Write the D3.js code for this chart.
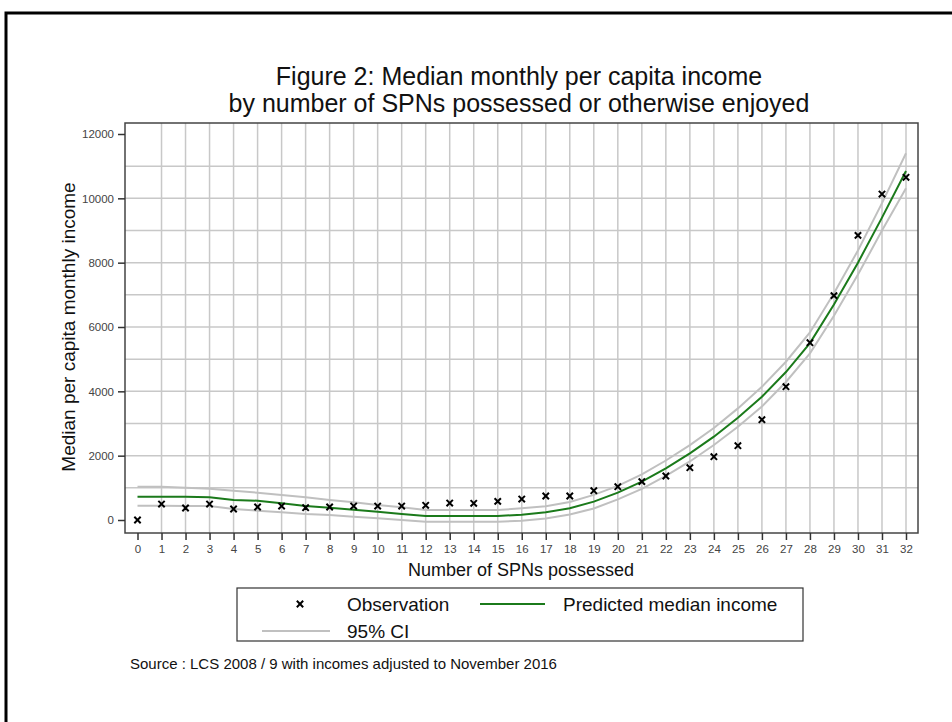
<html><head>
<script src="https://d3js.org/d3.v7.min.js"></script>
<style>
  body { margin: 0; background: #fff; }
  text { font-family: "Liberation Sans", Arial, sans-serif; }
</style>
</head>
<body>
<svg id="chart" width="952" height="722"></svg>
<script>
// number of SPNs (x)
let spns = d3.range(0, 33);
// observed median income
let observed = [0, 497, 373, 497, 342, 404, 435, 383, 404, 435, 435, 435, 456, 528, 518, 580, 652,
  746, 746, 911, 1036, 1192, 1368, 1627, 1969, 2311, 3119, 4145, 5513, 6975, 8849, 10134, 10653];
// predicted median income
let predicted = [725, 725, 725, 705, 622, 600, 518, 435, 383, 321, 259, 187, 124, 124, 124, 124, 166,
  238, 363, 570, 849, 1192, 1607, 2073, 2590, 3181, 3834, 4600, 5500, 6700, 8000, 9400, 10850];
// 95% CI bounds
let ciUpper = [1035, 1035, 1004, 973, 911, 849, 777, 705, 622, 550, 466, 394, 311, 311, 311, 311, 363,
  430, 560, 780, 1060, 1420, 1850, 2330, 2860, 3470, 4140, 4920, 5830, 7050, 8380, 9850, 11400];
let ciLower = [445, 445, 435, 435, 342, 290, 238, 187, 155, 104, 52, 0, -52, -52, -52, -52, -20,
  50, 170, 360, 640, 970, 1370, 1820, 2330, 2900, 3530, 4290, 5180, 6350, 7630, 9000, 10310];
let yTicks = [0, 2000, 4000, 6000, 8000, 10000, 12000];
let yGrid = d3.range(1000, 12000, 1000);
let xGrid = d3.range(1, 33);

let svg = d3.select("svg#chart");

// outer frame
svg.append("rect")
  .attr("x", 6).attr("y", 13).attr("width", 960).attr("height", 720)
  .attr("fill", "none").attr("stroke", "#000").attr("stroke-width", 3);

let frame = {left: 125, right: 918, top: 123, bottom: 533};
let x = d3.scaleLinear().domain([0, 32]).range([137.5, 906]);
let y = d3.scaleLinear().domain([0, 12000]).range([520, 134]);

// gridlines
svg.append("g").selectAll("line")
  .data(yGrid).join("line")
  .attr("x1", frame.left).attr("x2", frame.right)
  .attr("y1", d => y(d)).attr("y2", d => y(d))
  .attr("stroke", "#c8c8c8").attr("stroke-width", 1.5);
svg.append("g").selectAll("line")
  .data(xGrid).join("line")
  .attr("x1", d => x(d)).attr("x2", d => x(d))
  .attr("y1", frame.top).attr("y2", frame.bottom)
  .attr("stroke", "#c8c8c8").attr("stroke-width", 1.5);

// plot frame
svg.append("rect")
  .attr("x", frame.left).attr("y", frame.top)
  .attr("width", frame.right - frame.left).attr("height", frame.bottom - frame.top)
  .attr("fill", "none").attr("stroke", "#444").attr("stroke-width", 1.5);

// axes
let yAxis = svg.append("g")
  .attr("transform", "translate(" + frame.left + ",0)")
  .call(d3.axisLeft(y).tickValues(yTicks).tickFormat(d3.format("d"))
    .tickSize(7).tickSizeOuter(0).tickPadding(4));
let xAxis = svg.append("g")
  .attr("transform", "translate(0," + frame.bottom + ")")
  .call(d3.axisBottom(x).tickValues(spns).tickSize(7).tickSizeOuter(0).tickPadding(5));
[yAxis, xAxis].forEach(a => {
  a.select(".domain").remove();
  a.selectAll(".tick line").attr("stroke", "#333").attr("stroke-width", 1.5);
  a.selectAll(".tick text").attr("fill", "#444").style("font-size", "11.5px")
    .style("font-family", "'Liberation Sans', Arial, sans-serif");
});

// CI and predicted lines
let line = d3.line().x((d, i) => x(spns[i])).y(d => y(d));
svg.append("path").datum(ciUpper).attr("d", line)
  .attr("fill", "none").attr("stroke", "#c0c0c0").attr("stroke-width", 2);
svg.append("path").datum(ciLower).attr("d", line)
  .attr("fill", "none").attr("stroke", "#c0c0c0").attr("stroke-width", 2);
svg.append("path").datum(predicted).attr("d", line)
  .attr("fill", "none").attr("stroke", "#1b7a1b").attr("stroke-width", 2);

// observation markers
let xMark = d3.symbol().type(d3.symbolX).size(28);
svg.append("g").selectAll("path")
  .data(observed).join("path")
  .attr("d", xMark)
  .attr("transform", (d, i) => "translate(" + x(spns[i]) + "," + y(d) + ")")
  .attr("fill", "none").attr("stroke", "#000").attr("stroke-width", 2);

// titles
svg.append("text").attr("x", 519).attr("y", 85).attr("text-anchor", "middle")
  .style("font-size", "25px").attr("fill", "#111")
  .text("Figure 2: Median monthly per capita income");
svg.append("text").attr("x", 519).attr("y", 112).attr("text-anchor", "middle")
  .style("font-size", "25px").attr("fill", "#111")
  .text("by number of SPNs possessed or otherwise enjoyed");

svg.append("text")
  .attr("transform", "translate(75,327) rotate(-90)")
  .attr("text-anchor", "middle").style("font-size", "19px").attr("fill", "#111")
  .text("Median per capita monthly income");
svg.append("text").attr("x", 521).attr("y", 576).attr("text-anchor", "middle")
  .style("font-size", "18px").attr("fill", "#111")
  .text("Number of SPNs possessed");

// legend
let legend = svg.append("g");
legend.append("rect").attr("x", 237).attr("y", 588).attr("width", 566).attr("height", 53)
  .attr("fill", "#fff").attr("stroke", "#333").attr("stroke-width", 1.2);
legend.append("path").attr("d", xMark)
  .attr("transform", "translate(300,604)")
  .attr("fill", "none").attr("stroke", "#000").attr("stroke-width", 2);
legend.append("text").attr("x", 347).attr("y", 611).style("font-size", "19px").attr("fill", "#111")
  .text("Observation");
legend.append("line").attr("x1", 480).attr("x2", 545).attr("y1", 604).attr("y2", 604)
  .attr("stroke", "#1b7a1b").attr("stroke-width", 2);
legend.append("text").attr("x", 563).attr("y", 611).style("font-size", "19px").attr("fill", "#111")
  .text("Predicted median income");
legend.append("line").attr("x1", 262).attr("x2", 330).attr("y1", 631).attr("y2", 631)
  .attr("stroke", "#c0c0c0").attr("stroke-width", 2);
legend.append("text").attr("x", 347).attr("y", 638).style("font-size", "19px").attr("fill", "#111")
  .text("95% CI");

svg.append("text").attr("x", 130).attr("y", 669).style("font-size", "15px").attr("fill", "#111")
  .text("Source : LCS 2008 / 9 with incomes adjusted to November 2016");
</script>
</body>
</html>
